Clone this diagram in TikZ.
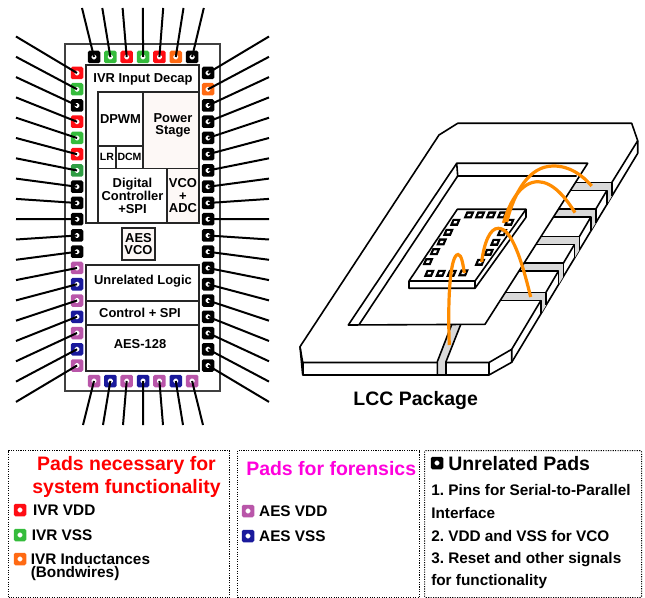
\documentclass[tikz,border=0pt]{standalone}
\usepackage{fontspec}
\setmainfont{Liberation Sans}
\usetikzlibrary{positioning, calc}
\frenchspacing

\definecolor{padred}{HTML}{FF0D14}
\definecolor{padgreen}{HTML}{35BC3C}
\definecolor{paddark}{HTML}{2F9E44}
\definecolor{padorange}{HTML}{FF6A13}
\definecolor{padpurple}{HTML}{B956A9}
\definecolor{padblue}{HTML}{1A1A9C}
\definecolor{leadgray}{HTML}{D9D9D9}
\definecolor{bondorange}{HTML}{FF8C00}
\definecolor{headmagenta}{HTML}{FF00DC}
\definecolor{powerfill}{HTML}{FDF8F6}

\newcommand{\pxu}{0.75pt}

\begin{document}
\begin{tikzpicture}[
    x=0.75pt, y=-0.75pt,
    padbox/.style={rectangle, rounded corners=1.2pt, fill=#1, minimum size=12.5*\pxu, inner sep=0pt, outer sep=0pt,
        path picture={\fill[white] ([xshift=-1.8pt,yshift=-1.8pt]path picture bounding box.center) rectangle ++(3.6pt,3.6pt);}},
    wire/.style={line width=1.5pt, black},
    block/.style={rectangle, draw=black!85, line width=0.9pt, inner sep=0pt, outer sep=0pt, anchor=north west, align=center,
        font=\fontsize{9.7}{9.5}\selectfont\bfseries},
    blocktext/.style={inner sep=0pt, align=center, font=\fontsize{9.7}{9.5}\selectfont\bfseries},
    smalltext/.style={inner sep=0pt, font=\fontsize{7.9}{9}\selectfont\bfseries},
    pkgline/.style={line width=1.2pt, black, line join=round},
    bond/.style={line width=2.4pt, bondorange},
    legendbox/.style={rectangle, draw, densely dotted, line width=0.8pt, anchor=north west, inner sep=0pt},
    legendhead/.style={inner sep=0pt, font=\fontsize{14.6}{14.6}\selectfont\bfseries},
    legendtext/.style={inner sep=0pt, anchor=west, align=left, font=\fontsize{11.5}{10.2}\selectfont\bfseries}
]
    \useasboundingbox (0,0) rectangle (645,598);

    % Die frame and blocks
    \node (frame) [block, draw=black!75, minimum width=155*\pxu, minimum height=347*\pxu] at (65,44) {};
    \node (core) [block, minimum width=113*\pxu, minimum height=158*\pxu] at (86,65) {};
    \node (decap) [blocktext] at (143,79.5) {IVR Input Decap};
    \node (dpwm) [block, minimum width=45*\pxu, minimum height=54*\pxu] at (98,92) {DPWM};
    \node (power) [block, fill=powerfill, minimum width=56*\pxu, minimum height=76.5*\pxu, right=0pt of dpwm.north east, anchor=north west] {};
    \node (powertext) [blocktext] at (173,125.5) {Power\\Stage};
    \node (lr) [block, minimum width=18*\pxu, minimum height=22.5*\pxu, below=0pt of dpwm.south west, anchor=north west, smalltext] {LR};
    \node (dcm) [block, minimum width=27*\pxu, minimum height=22.5*\pxu, right=0pt of lr.north east, anchor=north west, smalltext] {DCM};
    \node (digital) [block, minimum width=69*\pxu, minimum height=54.5*\pxu, below=0pt of lr.south west, anchor=north west] {Digital\\Controller\\+SPI};
    \node (vco) [block, fill=powerfill, minimum width=32*\pxu, minimum height=54.5*\pxu, right=0pt of digital.north east, anchor=north west] {VCO\\+\\ADC};
    \node (aesvco) [block, fill=powerfill, minimum width=33*\pxu, minimum height=32*\pxu] at (122,228) {AES\\VCO};
    \node (logic) [block, minimum width=113*\pxu, minimum height=36*\pxu] at (86,265) {};
    \node (control) [block, minimum width=113*\pxu, minimum height=24*\pxu, below=0pt of logic.south west, anchor=north west] {};
    \node (aes) [block, minimum width=113*\pxu, minimum height=46*\pxu, below=0pt of control.south west, anchor=north west] {};
    \node (logictext) [blocktext] at (143,281.5) {Unrelated Logic};
    \node (controltext) [blocktext] at (140,312.5) {Control + SPI};
    \node (aestext) [blocktext] at (140,344) {AES-128};

    % Pads with their pins
    \foreach \c [count=\i from 0] in {black, padgreen, padred, padgreen, padred, padorange, black} {
        \node (padT\i) [padbox=\c] at ({94+16.35*\i},57) {};
        \coordinate (endT\i) at ({82+20.3*\i},8);
        \draw[wire] (endT\i) -- (padT\i.center);
    }
    \foreach \c [count=\i from 0] in {padpurple, padblue, padpurple, padblue, padpurple, padblue, padpurple} {
        \node (padB\i) [padbox=\c] at ({94+16.35*\i},381) {};
        \coordinate (endB\i) at ({83+20*\i},425);
        \draw[wire] (endB\i) -- (padB\i.center);
    }
    \foreach \c [count=\i from 0] in {padred, padgreen, black, padred, padgreen, padred, paddark, black, black, black, black, black,
        padpurple, padblue, padpurple, padblue, padpurple, padblue, padpurple} {
        \node (padL\i) [padbox=\c] at (77,{73+16.25*\i}) {};
        \coordinate (endL\i) at (16,{36.5+20.3*\i});
        \draw[wire] (endL\i) -- (padL\i.center);
    }
    \foreach \c [count=\i from 0] in {black, padorange, black, black, black, black, black, black, black, black, black, black,
        black, black, black, black, black, black, black} {
        \node (padR\i) [padbox=\c] at (208,{73+16.25*\i}) {};
        \coordinate (endR\i) at (269,{36.5+20.3*\i});
        \draw[wire] (endR\i) -- (padR\i.center);
    }

    % Package body
    \draw[pkgline, fill=white] (300,346.7) -- (439,135) -- (457.7,123.3) -- (631.7,123.3) -- (637.7,140.7) -- (637.7,153.3)
        -- (511.7,362.3) -- (489,375) -- (302.7,375) -- cycle;
    \draw[pkgline] (300,346.7) -- (302.7,362.5) -- (489,362.5) -- (511.7,349.3) -- (511.7,362.3);
    \draw[pkgline] (489,362.5) -- (489,375);
    \draw[pkgline] (302.7,362.5) -- (302.7,375);
    \draw[pkgline] (637.7,140.7) -- (611.7,182.7);

    % Leads on the right side
    \foreach \tx/\ty/\nx/\ny in {611.7/182.7/595.7/209.3, 595.7/209.3/579.3/236.7, 579.3/236.7/563.3/263.3,
        563.3/263.3/546/292.3, 546/292.3/511.7/349.3} {
        \pgfmathsetmacro\lefttop{587.7-0.638*(\ty-163.3)}
        \pgfmathsetmacro\leftlow{587.7-0.638*(\ty+8-163.3)}
        \pgfmathsetmacro\downp{153.3+(637.7-\tx)*1.659}
        \pgfmathsetmacro\downq{153.3+(637.7-\tx+5)*1.659}
        \fill[leadgray] (\lefttop,\ty) -- (\tx,\ty) -- (\tx,\downp) -- ({\tx-5},\downq) -- ({\tx-5},{\ty+8}) -- (\leftlow,{\ty+8}) -- cycle;
        \draw[pkgline] (\lefttop,\ty) -- (\tx,\ty) -- (\tx,\downp);
        \draw[pkgline] (\leftlow,{\ty+8}) -- ({\tx-5},{\ty+8}) -- ({\tx-5},\downq);
        \draw[pkgline] ({\tx-5},{\ty+8}) -- (\nx,\ny);
    }

    % Lead at the front
    \draw[pkgline, fill=leadgray] (451.7,324.5) -- (437.3,361.7) -- (437.3,375) -- (446,375) -- (446,361.7) -- (460.7,324.5);

    % Cavity and die paddle
    \draw[pkgline] (348.3,325) -- (456.7,163.3) -- (587.7,163.3) -- (485,324.3) -- cycle;
    \draw[pkgline] (456.7,163.3) -- (457.7,176) -- (576.7,176);
    \draw[pkgline] (457.7,176) -- (359.3,324.3);

    % Die on the paddle
    \draw[pkgline, fill=white] (409,281) -- (457.3,209.3) -- (526,209.3) -- (526,217.3) -- (475,288.3) -- (409,288.3) -- cycle;
    \draw[pkgline] (409,281) -- (475,281) -- (526,209.3);
    \draw[pkgline] (475,281) -- (475,288.3);
    \foreach \cx/\cy in {469/215, 480/215, 491/215, 502/215, 429.3/273.3, 440.7/273.3, 451.7/273.3, 463.3/273,
        455.3/222.3, 448.3/232.3, 441.7/242, 435/251.7, 428/261.7,
        509.3/222.3, 502/232.7, 495.3/242.3, 488.7/252.3, 480/262.3} {
        \fill[black] (\cx,\cy) ++(-5.5,3.5) -- ++(8,0) -- ++(3,-7) -- ++(-8,0) -- cycle;
        \fill[white] (\cx,\cy) ++(-2,1.2) -- ++(3,0) -- ++(1,-2.4) -- ++(-3,0) -- cycle;
    }

    % Bond wires
    \draw[bond] (449.3,345) .. controls (447.5,300) and (450,255) .. (458,254.5) .. controls (461.5,254.5) and (463,264) .. (464.3,273);
    \draw[bond] (481.7,262) .. controls (484,243) and (490,228) .. (498.3,228.3) .. controls (512,228) and (522,262) .. (530.7,297);
    \draw[bond] (503.5,223) .. controls (510,200) and (522,181.5) .. (538.3,181.7) .. controls (553,182) and (566,198) .. (575,212.7);
    \draw[bond] (506.7,222) .. controls (515,190) and (530,166) .. (553.3,166) .. controls (570,166) and (582,175) .. (591.7,186);

    \node (lcc) [legendhead] at (415.7,400.5) {LCC Package};

    % Legend boxes
    \node (boxivr) [legendbox, minimum width=221*\pxu, minimum height=147*\pxu] at (8,450) {};
    \node (boxaes) [legendbox, minimum width=182*\pxu, minimum height=147*\pxu] at (237,450) {};
    \node (boxother) [legendbox, rounded corners=1pt, minimum width=217*\pxu, minimum height=147*\pxu] at (424,450) {};

    \node (headivr) [legendhead, text=red, align=center, font=\fontsize{14.6}{17.2}\selectfont\bfseries] at (126.5,476.5) {Pads necessary for\\system functionality};
    \node (keyvdd) [padbox=padred] at (20,510) {};
    \node (textvdd) [legendtext, right=5pt of keyvdd.east, anchor=west] {IVR VDD};
    \node (keyvss) [padbox=padgreen] at (20,535) {};
    \node (textvss) [legendtext, right=4pt of keyvss.east, anchor=west] {IVR VSS};
    \node (keyind) [padbox=padorange] at (20,559) {};
    \node (textind) [legendtext, anchor=west] at (30.5,567) {IVR Inductances\\(Bondwires)};

    \node (headaes) [legendhead, text=headmagenta, anchor=west] at (246,469) {Pads for forensics};
    \node (keyaesvdd) [padbox=padpurple] at (248,511) {};
    \node (textaesvdd) [legendtext, right=3.5pt of keyaesvdd.east, anchor=west] {AES VDD};
    \node (keyaesvss) [padbox=padblue] at (248,536) {};
    \node (textaesvss) [legendtext, right=3.5pt of keyaesvss.east, anchor=west] {AES VSS};

    \node (keyother) [padbox=black] at (437,463) {};
    \node (headother) [legendhead, anchor=west] at (448,464) {Unrelated Pads};
    \node (itema) [legendtext] at (431,490) {1. Pins for Serial-to-Parallel};
    \node (itemb) [legendtext] at (431,513) {Interface};
    \node (itemc) [legendtext] at (431,536) {2. VDD and VSS for VCO};
    \node (itemd) [legendtext] at (431,559.5) {3. Reset and other signals};
    \node (iteme) [legendtext] at (431,582) {for functionality};
\end{tikzpicture}
\end{document}
